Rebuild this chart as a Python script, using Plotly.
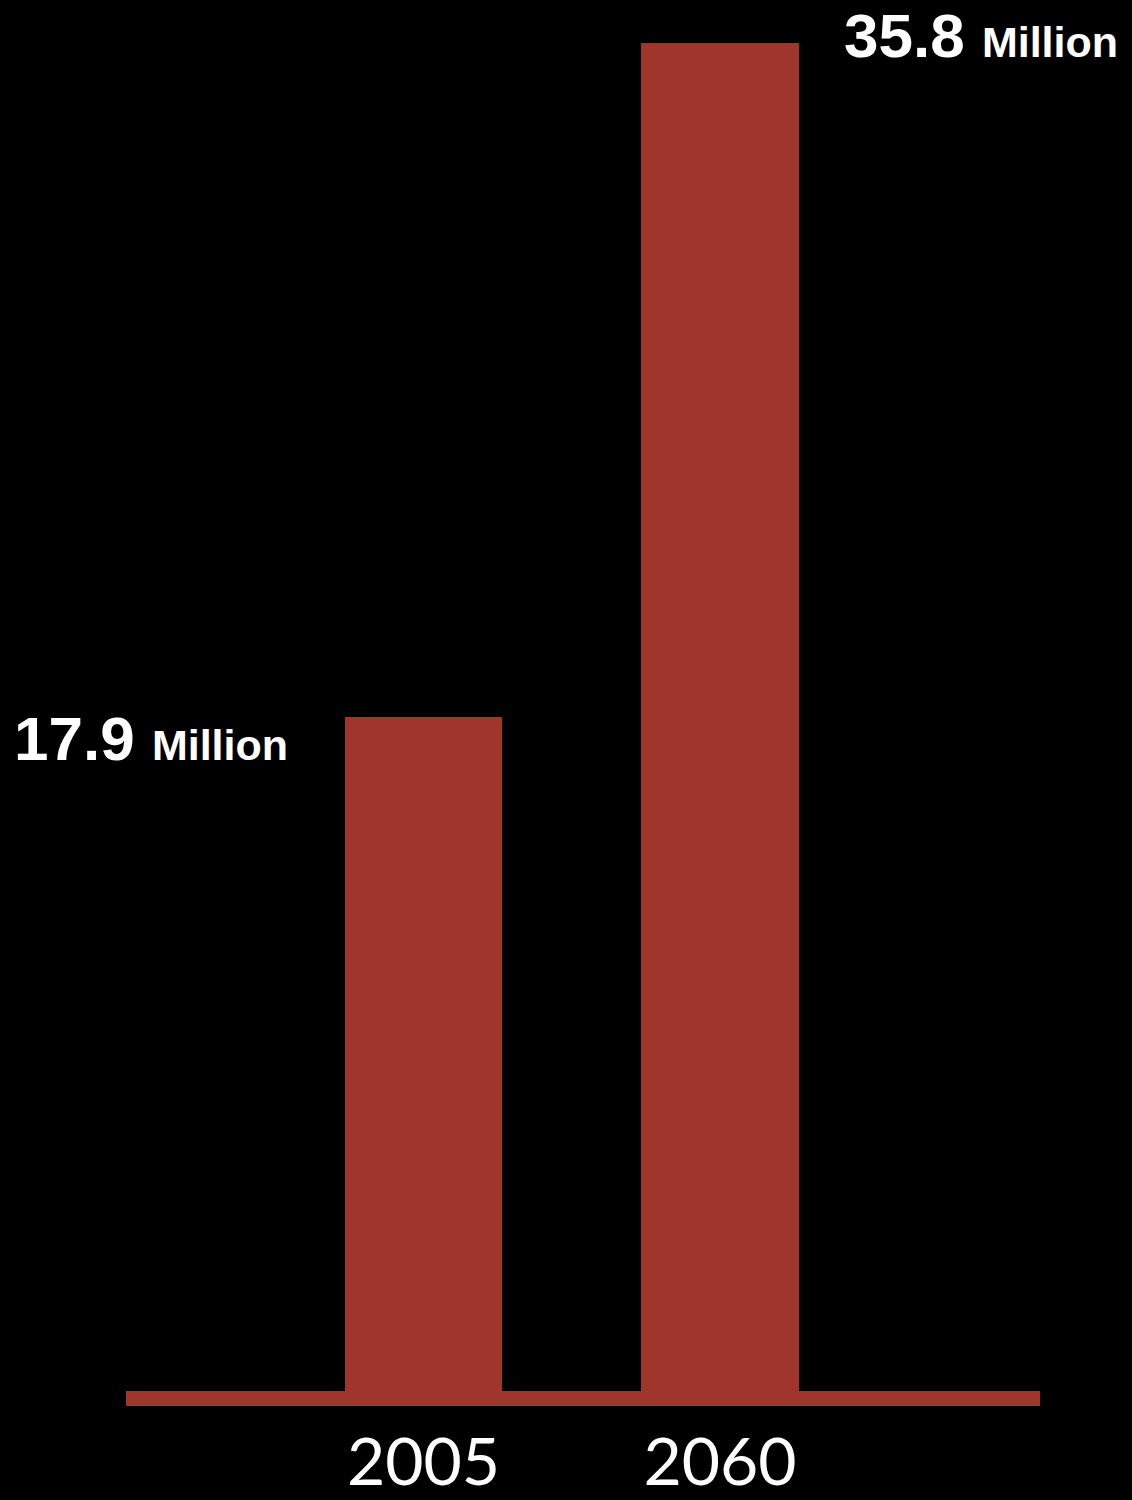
import plotly.graph_objects as go

years = ["2005", "2060"]
values = [17.9, 35.8]
labels = ["17.9", "35.8"]
unit = "Million"

bar_color = "#A0362B"
xpos = list(range(len(years)))

fig = go.Figure()
fig.add_trace(go.Bar(
    x=xpos, y=values, width=0.53,
    marker=dict(color=bar_color, line=dict(width=0)),
    hoverinfo="skip",
))

# value annotations
ann_specs = [
    dict(xanchor="right", xshift=-133.5, yshift=-22),
    dict(xanchor="left", xshift=122, yshift=7),
]
for xp, v, lab, spec in zip(xpos, values, labels, ann_specs):
    fig.add_annotation(
        x=xp, y=v, xref="x", yref="y",
        text=f"<b>{lab}</b> <span style='font-size:43px'><b>{unit}</b></span>",
        showarrow=False, yanchor="middle",
        font=dict(family="Liberation Sans, Arial", size=62, color="white"),
        **spec,
    )

fig.update_layout(
    width=1132, height=1500,
    paper_bgcolor="black", plot_bgcolor="black",
    margin=dict(l=126, r=92, t=0, b=109),
    showlegend=False,
    bargap=0,
    xaxis=dict(
        range=[-1.003, 2.079],
        tickvals=xpos, ticktext=years,
        showgrid=False, zeroline=False,
        showline=True, linecolor=bar_color, linewidth=15,
        ticks="", tickfont=dict(family="Lato, Open Sans", size=66, color="white", weight=400),
        fixedrange=True,
    ),
    yaxis=dict(
        range=[0, 36.93], showticklabels=False, showgrid=False, zeroline=False,
        showline=False, ticks="", fixedrange=True,
    ),
)

fig.write_html(
    "out.html",
    config={"displayModeBar": False},
    post_script="document.body.style.margin='0';document.body.style.background='black';",
)
